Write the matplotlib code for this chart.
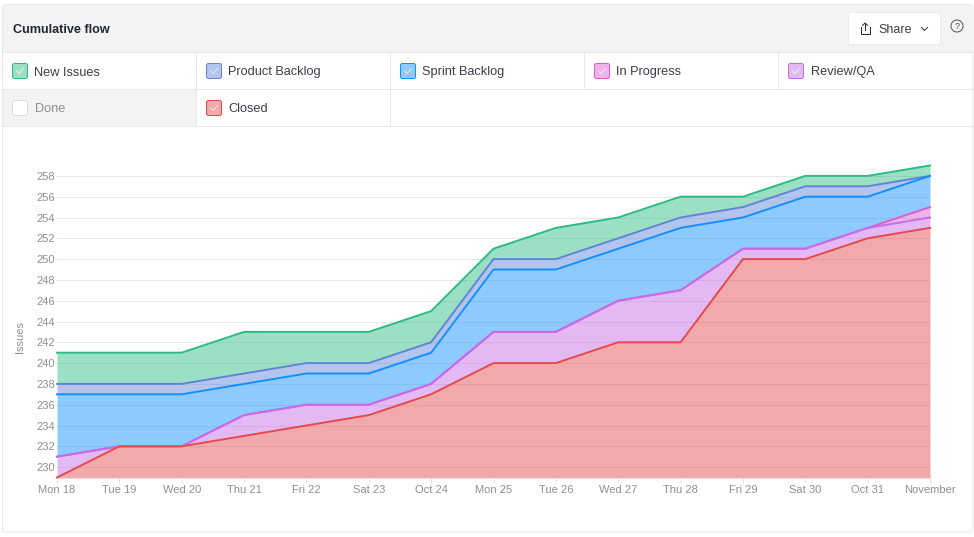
import matplotlib
matplotlib.use('Agg')
import matplotlib.pyplot as plt
from matplotlib.patches import FancyBboxPatch, Rectangle, Circle

days = ['Mon 18', 'Tue 19', 'Wed 20', 'Thu 21', 'Fri 22', 'Sat 23', 'Oct 24', 'Mon 25',
        'Tue 26', 'Wed 27', 'Thu 28', 'Fri 29', 'Sat 30', 'Oct 31', 'November']
new_issues = [241, 241, 241, 243, 243, 243, 245, 251, 253, 254, 256, 256, 258, 258, 259]
product_backlog = [238, 238, 238, 239, 240, 240, 242, 250, 250, 252, 254, 255, 257, 257, 258]
sprint_backlog = [237, 237, 237, 238, 239, 239, 241, 249, 249, 251, 253, 254, 256, 256, 258]
in_progress = [231, 232, 232, 235, 236, 236, 238, 243, 243, 246, 247, 251, 251, 253, 255]
review_qa = [231, 232, 232, 235, 236, 236, 238, 243, 243, 246, 247, 251, 251, 253, 254]
closed = [229, 232, 232, 233, 234, 235, 237, 240, 240, 242, 242, 250, 250, 252, 253]
y_ticks = list(range(230, 260, 2))

GREEN = '#2bbb83'
INDIGO = '#5f85d8'
BLUE = '#1190ff'
PINK = '#dd5cd2'
PURPLE = '#c56ce9'
RED = '#e5484d'
BORDER = '#e8e8e8'
TEXT = '#3a3f4b'
TICK = '#8f8f8f'
PX = 0.72  # one pixel line width at dpi 100

plt.rcParams['font.family'] = ['Liberation Sans', 'DejaVu Sans']

W, H = 974, 537
fig = plt.figure(figsize=(W / 100, H / 100), dpi=100)

# page furniture is drawn in pixel coords on a full-figure axes
bg = fig.add_axes([0, 0, 1, 1])
bg.set_xlim(0, W)
bg.set_ylim(H, 0)
bg.axis('off')

bg.add_patch(FancyBboxPatch((2.5, 4.5), 970.5, 527.5, boxstyle='round,pad=0,rounding_size=3',
                            fc='white', ec=BORDER, lw=PX))
bg.add_patch(Rectangle((3, 5), 970, 47, fc='#f3f3f3', ec='none'))
bg.add_patch(Rectangle((3, 89), 193, 37, fc='#f3f3f3', ec='none'))
for y in [52, 89, 126]:
    bg.plot([3, 973], [y, y], color=BORDER, lw=PX)
for x in [196, 390, 584, 778]:
    bg.plot([x, x], [52, 89], color=BORDER, lw=PX)
for x in [196, 390]:
    bg.plot([x, x], [89, 126], color=BORDER, lw=PX)

bg.text(13, 33, 'Cumulative flow', fontsize=9.1, fontweight='bold', color='#23272f', va='baseline')

# share button
bg.add_patch(FancyBboxPatch((848.5, 12.5), 92, 32, boxstyle='round,pad=0,rounding_size=2',
                            fc='white', ec='#ebebeb', lw=PX))
bg.text(878, 33, 'Share', fontsize=9, color=TEXT, va='baseline')
bg.plot([860.5, 860.5, 869.5, 869.5], [27, 33.5, 33.5, 27], color='#2b2f38', lw=PX)
bg.plot([865, 865], [23, 30], color='#2b2f38', lw=PX)
bg.plot([862.5, 865, 867.5], [25.5, 23, 25.5], color='#2b2f38', lw=PX)
bg.plot([921.5, 924.5, 927.5], [27.5, 30.5, 27.5], color='#2b2f38', lw=PX)
bg.add_patch(Circle((957, 26), 6, fc='none', ec='#555555', lw=PX))
bg.text(957, 26.5, '?', fontsize=6.5, color='#555555', ha='center', va='center')

legend_items = [
    ('New Issues', GREEN, 12, 71, True),
    ('Product Backlog', INDIGO, 206, 71, True),
    ('Sprint Backlog', BLUE, 400, 71, True),
    ('In Progress', PINK, 594, 71, True),
    ('Review/QA', PURPLE, 788, 71, True),
    ('Done', '#d9d9d9', 12, 108, False),
    ('Closed', RED, 206, 108, True),
]
for label, col, x, y, active in legend_items:
    face = col + '78' if active else 'white'
    bg.add_patch(FancyBboxPatch((x + 0.5, y - 7.5), 15, 15, boxstyle='round,pad=0,rounding_size=2',
                                fc=face, ec=col, lw=PX))
    if active:
        bg.plot([x + 4.5, x + 7, x + 11.5], [y, y + 2.5, y - 2.5], color='white', lw=PX, alpha=0.7)
    bg.text(x + 22.5, y + 4.5, label, fontsize=9.2, color=TEXT if active else '#8e8e93', va='baseline')

# chart area: 229 sits at y=477.5, 259 at y=165.5
left, right, top, bottom = 57, 930, 165.5, 477.5
ax = fig.add_axes([left / W, 1 - bottom / H, (right - left) / W, (bottom - top) / H])
ax.patch.set_alpha(0)
xs = list(range(len(days)))
ax.set_xlim(0, len(days) - 1)
ax.set_ylim(229, 259)

layers = [
    (new_issues, product_backlog, GREEN),
    (product_backlog, sprint_backlog, INDIGO),
    (sprint_backlog, in_progress, BLUE),
    (in_progress, review_qa, PINK),
    (review_qa, closed, PURPLE),
]
for upper, lower, col in layers:
    ax.fill_between(xs, lower, upper, color=col, alpha=0.47, lw=0, zorder=2)
ax.fill_between(xs, 229, closed, color=RED, alpha=0.47, lw=0, zorder=2)

for series, col in [(new_issues, GREEN), (product_backlog, INDIGO), (sprint_backlog, BLUE),
                    (in_progress, PINK), (review_qa, PURPLE), (closed, RED)]:
    ax.plot(xs, series, color=col, lw=1.4, zorder=3, clip_on=False, solid_joinstyle='round')

ax.set_yticks(y_ticks)
ax.set_xticks(xs)
ax.set_xticklabels(days)
ax.grid(axis='y', color='#e8e8e8', lw=PX, zorder=1)
ax.set_axisbelow(True)
ax.tick_params(axis='y', length=0, pad=1.5, labelsize=8, labelcolor=TICK)
ax.tick_params(axis='x', length=3.5, width=PX, color='#e3e3e3', pad=2, labelsize=8, labelcolor=TICK)
for s in ['top', 'left', 'right']:
    ax.spines[s].set_visible(False)
ax.spines['bottom'].set_color('#e3e3e3')
ax.spines['bottom'].set_linewidth(PX)

bg.text(19.5, 337, 'Issues', fontsize=8, color=TICK, rotation=90, ha='center', va='center')

fig.savefig('out.png', dpi=100)
